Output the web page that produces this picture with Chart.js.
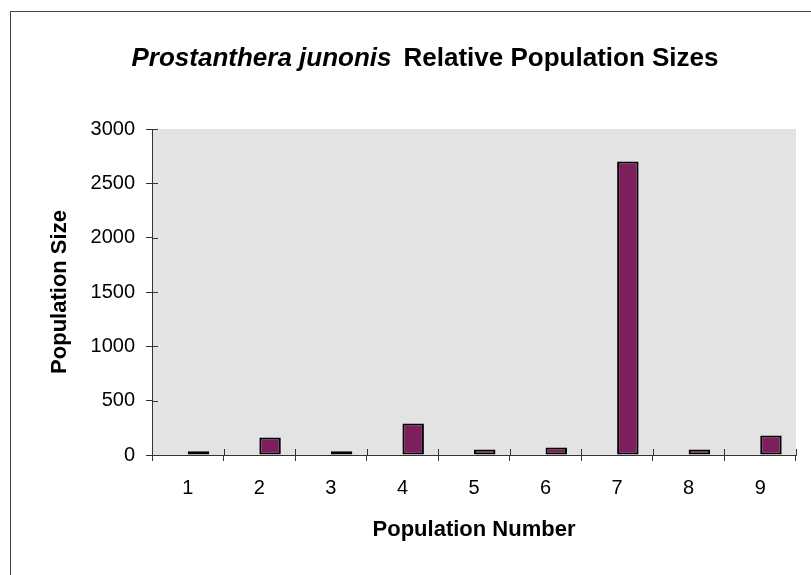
<!DOCTYPE html>
<html>
<head>
<meta charset="utf-8">
<script src="https://cdn.jsdelivr.net/npm/chart.js@4/dist/chart.umd.min.js"></script>
<style>
  html, body { margin: 0; padding: 0; background: #fff; }
  canvas { display: block; }
</style>
</head>
<body>
<canvas id="c" width="811" height="575"></canvas>
<script>
const populations = ['1', '2', '3', '4', '5', '6', '7', '8', '9'];
const popSizes = [35, 160, 35, 290, 50, 70, 2700, 50, 180];
// Excel left an empty first series, so the bars sit right of centre
const emptySeries = [null, null, null, null, null, null, null, null, null];
const yTicks = [0, 500, 1000, 1500, 2000, 2500, 3000];

const font = 'Arial, "Liberation Sans", sans-serif';

const bgPlugin = {
    id: 'plotBg',
    beforeDraw(chart) {
        const { ctx, chartArea: a } = chart;
        ctx.save();
        ctx.fillStyle = '#e3e3e3';
        ctx.fillRect(a.left, a.top, a.right - a.left, a.bottom - a.top);
        ctx.restore();
    },
    afterDraw(chart) {
        const { ctx, chartArea: a } = chart;
        const x = chart.scales.x, y = chart.scales.y;
        ctx.save();
        ctx.strokeStyle = '#333';
        ctx.lineWidth = 1;
        ctx.beginPath();
        // inner half of the cross tick marks
        y.ticks.forEach((t, i) => {
            const py = Math.round(y.getPixelForTick(i)) + 0.5;
            ctx.moveTo(a.left, py);
            ctx.lineTo(a.left + 6, py);
        });
        const step = x.width / populations.length;
        for (let i = 0; i <= populations.length; i++) {
            const px = Math.round(x.left + step * i) + 0.5;
            ctx.moveTo(px, a.bottom);
            ctx.lineTo(px, a.bottom - 6);
        }
        ctx.stroke();

        // outer frame
        ctx.strokeStyle = '#444';
        ctx.strokeRect(10.5, 11.5, 2000, 2000);

        // title: italic species name + bold rest
        const part1 = 'Prostanthera junonis';
        const part2 = 'Relative Population Sizes';
        const f1 = 'italic bold 26px ' + font;
        const f2 = 'bold 26px ' + font;
        ctx.fillStyle = '#000';
        ctx.textBaseline = 'alphabetic';
        ctx.font = f1;
        const w1 = ctx.measureText(part1).width;
        const gap = 12;
        ctx.font = f2;
        const w2 = ctx.measureText(part2).width;
        let sx = 425 - (w1 + gap + w2) / 2;
        ctx.font = f1;
        ctx.fillText(part1, sx, 66);
        ctx.font = f2;
        ctx.fillText(part2, sx + w1 + gap, 66);
        ctx.restore();
    }
};

new Chart(document.getElementById('c'), {
    type: 'bar',
    data: {
        labels: populations,
        datasets: [
            { label: '', data: emptySeries },
            {
                label: 'Population Size',
                data: popSizes,
                backgroundColor: '#7d1f5c',
                borderColor: '#000',
                borderWidth: 2,
                borderSkipped: false
            }
        ]
    },
    options: {
        responsive: false,
        animation: false,
        layout: { padding: { top: 129, right: 15, left: 0, bottom: 0 } },
        datasets: { bar: { categoryPercentage: 0.6, barPercentage: 1 } },
        plugins: {
            legend: { display: false },
            title: { display: false },
            tooltip: { enabled: false }
        },
        scales: {
            x: {
                afterFit(s) { s.height = 120; },
                grid: { drawOnChartArea: false, tickLength: 6, color: '#333' },
                border: { color: '#333' },
                ticks: { color: '#000', padding: 15, font: { family: font, size: 20 } },
                title: {
                    display: true, text: 'Population Number', color: '#000',
                    font: { family: font, size: 22, weight: 'bold' },
                    padding: { top: 0, bottom: 32 }
                }
            },
            y: {
                min: 0, max: 3000,
                afterFit(s) { s.width = 152; },
                afterBuildTicks(s) { s.ticks = yTicks.map(v => ({ value: v })); },
                grid: { drawOnChartArea: false, tickLength: 6, color: '#333' },
                border: { color: '#333' },
                ticks: {
                    color: '#000', padding: 11, font: { family: font, size: 20 },
                    callback: v => String(v)
                },
                title: {
                    display: true, text: 'Population Size', color: '#000',
                    font: { family: font, size: 22, weight: 'bold' },
                    padding: { top: 47, bottom: 0 }
                }
            }
        }
    },
    plugins: [bgPlugin]
});
</script>
</body>
</html>
